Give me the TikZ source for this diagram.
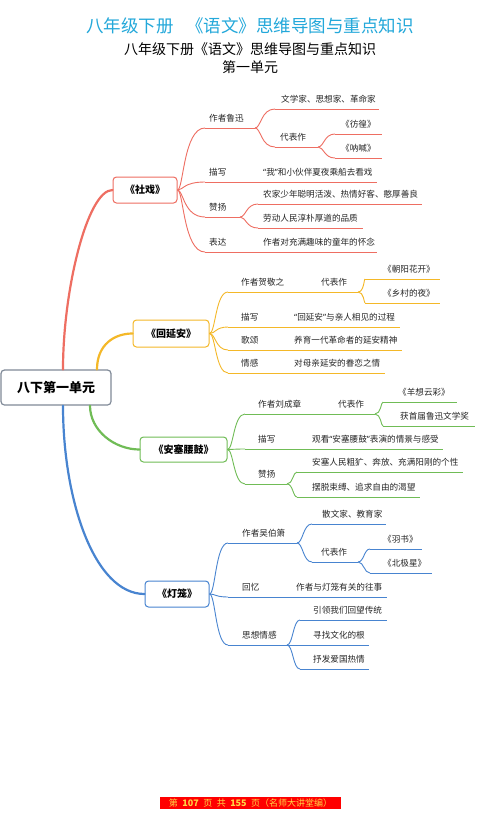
\documentclass[tikz,border=0pt]{standalone}
\usepackage{fontspec}
\setmainfont{Noto Sans CJK SC}
\newfontfamily\qfont{Noto Sans}
\usetikzlibrary{calc}

\definecolor{titleblue}{RGB}{35,168,218}
\definecolor{redc}{RGB}{238,110,98}
\definecolor{yelc}{RGB}{244,184,40}
\definecolor{grnc}{RGB}{112,188,86}
\definecolor{bluc}{RGB}{72,132,208}
\definecolor{rootc}{RGB}{128,138,152}
\definecolor{footyel}{RGB}{255,214,70}

\tikzset{
    topic/.style={draw, line width=1pt, rounded corners=3.5pt, fill=white, text=black,
        font=\fontsize{10}{12}\selectfont\bfseries, inner sep=0pt, minimum height=26pt},
    lbl/.style={anchor=base west, inner sep=0pt, text=black!85,
        font=\fontsize{8.6}{10}\selectfont},
    trunk/.style={line width=2.2pt, line cap=round},
    twig/.style={line width=0.9pt, to path={.. controls ($(\tikztostart)+(6,0)$)
        and ($(\tikztostart |- \tikztotarget)+(6,0)$) .. (\tikztotarget)}},
}

% narrow quotes
\newcommand{\qopen}{{\qfont “}}
\newcommand{\qclose}{{\qfont ”}}

% underlined text: name, x from, x to, y, text x, text
\newcommand{\leafline}[6]{%
    \coordinate (#1-a) at (#2,#4);
    \coordinate (#1-b) at (#3,#4);
    \draw[line width=0.9pt] (#1-a) -- (#1-b);
    \node[lbl] (#1) at (#5,#4-6.7) {#6};}

\begin{document}
\begin{tikzpicture}[x=1pt, y=-1pt]
        \fill[white] (0,0) rectangle (500,817);
        \useasboundingbox (0,0) rectangle (500,817);

        % Titles
        \node[font=\fontsize{17.5}{20}\selectfont, text=titleblue] (t1) at (250,26) {八年级下册\hspace{0.7em}《语文》思维导图与重点知识};
        \node[font=\fontsize{14}{16}\selectfont] (t2) at (250,49) {八年级下册《语文》思维导图与重点知识};
        \node[font=\fontsize{14}{16}\selectfont] (t3) at (250,67) {第一单元};

        % Root
        \node[topic, draw=rootc, line width=1.2pt, minimum width=110pt, minimum height=35pt,
            font=\fontsize{13}{15}\selectfont\bfseries] (rt) at (56,387.5) {八下第一单元};

        % 社戏
        \begin{scope}[color=redc]
            \node[topic, minimum width=64pt] (sx) at (145,190) {《社戏》};
            \leafline{sx1}{205}{255}{128}{209}{作者鲁迅}
            \leafline{sx11}{275}{379}{109}{281}{文学家、思想家、革命家}
            \leafline{sx12}{275}{318}{147}{280}{代表作}
            \leafline{sx121}{335}{382}{134}{341}{《彷徨》}
            \leafline{sx122}{335}{382}{158}{341}{《呐喊》}
            \leafline{sx2}{205}{377}{182}{209}{描写}
            \node[lbl] (sx2t) at (263,182-6.7) {\qopen 我\qclose 和小伙伴夏夜乘船去看戏};
            \leafline{sx3}{205}{240}{217}{209}{赞扬}
            \leafline{sx31}{258}{422}{204}{263}{农家少年聪明活泼、热情好客、憨厚善良}
            \leafline{sx32}{258}{363}{228}{263}{劳动人民淳朴厚道的品质}
            \leafline{sx4}{205}{377}{252}{209}{表达}
            \node[lbl] (sx4t) at (263,252-6.7) {作者对充满趣味的童年的怀念};

            \foreach \t in {sx1,sx2,sx3,sx4} \draw[twig] (sx.east) to (\t-a);
            \foreach \t in {sx11,sx12} \draw[twig] (sx1-b) to (\t-a);
            \foreach \t in {sx121,sx122} \draw[twig] (sx12-b) to (\t-a);
            \foreach \t in {sx31,sx32} \draw[twig] (sx3-b) to (\t-a);
            \draw[trunk] ([xshift=7pt]rt.north) .. controls +(0,-80) and +(-25,0) .. (sx.west);
        \end{scope}

        % 回延安
        \begin{scope}[color=yelc]
            \node[topic, minimum width=76pt, minimum height=27pt] (hy) at (171,333.5) {《回延安》};
            \leafline{hy1}{228}{358}{292}{241}{作者贺敬之}
            \node[lbl] (hy1t) at (321,292-6.7) {代表作};
            \leafline{hy11}{365}{440}{279}{383}{《朝阳花开》}
            \leafline{hy12}{365}{440}{303}{383}{《乡村的夜》}
            \leafline{hy2}{228}{400}{327}{241}{描写}
            \node[lbl] (hy2t) at (294,327-6.7) {\qopen 回延安\qclose 与亲人相见的过程};
            \leafline{hy3}{228}{402}{350}{241}{歌颂}
            \node[lbl] (hy3t) at (294,350-6.7) {养育一代革命者的延安精神};
            \leafline{hy4}{228}{385}{373}{241}{情感}
            \node[lbl] (hy4t) at (294,373-6.7) {对母亲延安的眷恋之情};

            \foreach \t in {hy1,hy2,hy3,hy4} \draw[twig] (hy.east) to (\t-a);
            \foreach \t in {hy11,hy12} \draw[twig] (hy1-b) to (\t-a);
            \draw[trunk] ([xshift=41pt]rt.north) .. controls +(0,-25) and +(-18,0) .. (hy.west);
        \end{scope}

        % 安塞腰鼓
        \begin{scope}[color=grnc]
            \node[topic, minimum width=87pt, minimum height=25pt] (as) at (183.5,449.5) {《安塞腰鼓》};
            \leafline{as1}{245}{375}{414}{258}{作者刘成章}
            \node[lbl] (as1t) at (338,414-6.7) {代表作};
            \leafline{as11}{383}{457}{402}{398}{《羊想云彩》}
            \leafline{as12}{383}{475}{426}{400}{获首届鲁迅文学奖}
            \leafline{as2}{245}{443}{449}{258}{描写}
            \node[lbl] (as2t) at (312,449-6.7) {观看\qopen 安塞腰鼓\qclose 表演的情景与感受};
            \leafline{as3}{245}{287}{484}{258}{赞扬}
            \leafline{as31}{297}{463}{472}{312}{安塞人民粗犷、奔放、充满阳刚的个性}
            \leafline{as32}{297}{420}{497}{312}{摆脱束缚、追求自由的渴望}

            \foreach \t in {as1,as2,as3} \draw[twig] (as.east) to (\t-a);
            \foreach \t in {as11,as12} \draw[twig] (as1-b) to (\t-a);
            \foreach \t in {as31,as32} \draw[twig] (as3-b) to (\t-a);
            \draw[trunk] ([xshift=34pt]rt.south) .. controls +(0,25) and +(-25,0) .. (as.west);
        \end{scope}

        % 灯笼
        \begin{scope}[color=bluc]
            \node[topic, minimum width=64pt] (dl) at (177,594) {《灯笼》};
            \leafline{dl1}{228}{297}{543}{242}{作者吴伯箫}
            \leafline{dl11}{312}{386}{524}{322}{散文家、教育家}
            \leafline{dl12}{312}{358}{562}{321}{代表作}
            \leafline{dl121}{370}{422}{549}{383}{《羽书》}
            \leafline{dl122}{370}{432}{573}{383}{《北极星》}
            \leafline{dl2}{228}{387}{597}{242}{回忆}
            \node[lbl] (dl2t) at (296,597-6.7) {作者与灯笼有关的往事};
            \leafline{dl3}{228}{287}{645}{242}{思想情感}
            \leafline{dl31}{300}{387}{620}{313}{引领我们回望传统}
            \leafline{dl32}{300}{369}{645}{313}{寻找文化的根}
            \leafline{dl33}{300}{369}{669}{313}{抒发爱国热情}

            \foreach \t in {dl1,dl2,dl3} \draw[twig] (dl.east) to (\t-a);
            \foreach \t in {dl11,dl12} \draw[twig] (dl1-b) to (\t-a);
            \foreach \t in {dl121,dl122} \draw[twig] (dl12-b) to (\t-a);
            \foreach \t in {dl31,dl32,dl33} \draw[twig] (dl3-b) to (\t-a);
            \draw[trunk] ([xshift=7pt]rt.south) .. controls +(0,95) and +(-50,0) .. (dl.west);
        \end{scope}

        % Footer
        \node[fill=red, text=footyel, minimum width=181pt, minimum height=12pt, inner sep=0pt,
            font=\fontsize{9}{10}\selectfont] (ft) at (250.5,803) {第\enspace\textbf{107}\enspace 页\enspace 共\enspace\textbf{155}\enspace 页（名师大讲堂编）};
    \end{tikzpicture}
\end{document}
